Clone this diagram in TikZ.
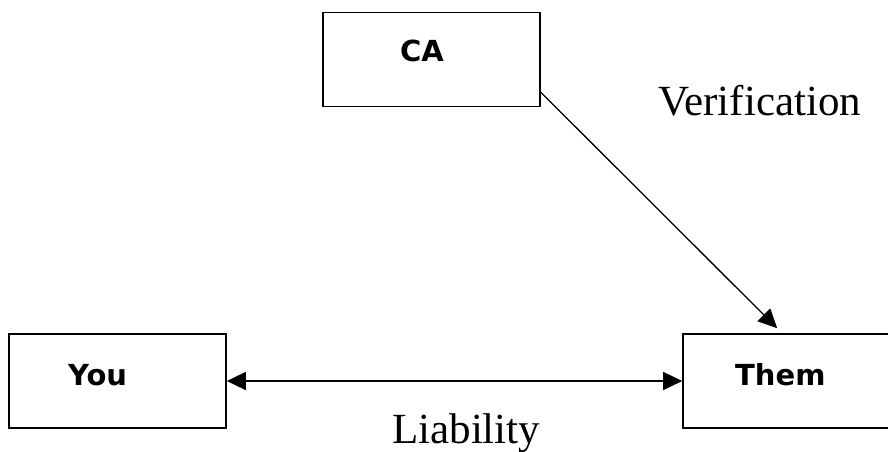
\documentclass[tikz,border=0pt]{standalone}
\usepackage{fontspec}
\setmainfont{Liberation Serif}
\newfontfamily\boxfont{DejaVu Sans}
\usepackage{tikz}
\usetikzlibrary{arrows.meta}
\usetikzlibrary{positioning}
\usetikzlibrary{calc}

\begin{document}
\begin{tikzpicture}[x=1pt,y=-1pt,
  party/.style={draw,line width=1.6pt,minimum width=217pt,minimum height=94pt,inner sep=0pt},
  partyname/.style={anchor=base west,inner sep=0pt,font=\boxfont\bfseries\fontsize{29}{31}\selectfont},
  relname/.style={anchor=base west,inner sep=0pt,font=\fontsize{43}{46}\selectfont},
  tip/.style={line width=1.3pt,-{Triangle[length=19pt,width=18pt]}},
  twotip/.style={line width=1.3pt,{Triangle[length=19pt,width=18pt]}-{Triangle[length=19pt,width=18pt]}}]
\path[use as bounding box,clip] (0,0) rectangle (888,452);
\node[party] (ca) at (431.5,59.5) {};
\node[party] (you) at (117.5,381) {};
\node[party] (them) at (791.5,381) {};
\node[partyname] (caname) at (400,62) {CA};
\node[partyname] (youname) at (68,385) {You};
\node[partyname] (themname) at (735,385) {Them};
\node[relname] (verif) at (658,115) {Verification};
\node[relname] (liab) at (392,443) {Liability};
\draw[tip] ($(ca.south east)+(0,-15)$) -- ($(them.north west)+(95,-5)$);
\draw[twotip] (you) -- (them);
\end{tikzpicture}
\end{document}
